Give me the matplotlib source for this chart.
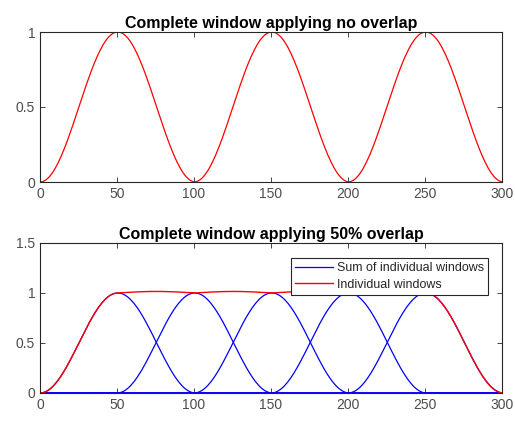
"""Hann window overlap demo: no overlap vs 50% overlap."""

import numpy as np
import matplotlib
matplotlib.use("Agg")
import matplotlib.pyplot as plt

# window setup
win_len = 100
total_len = 300
offsets_no_overlap = [0, 100, 200]
offsets_half_overlap = [0, 50, 100, 150, 200]
x_ticks = [0, 50, 100, 150, 200, 250, 300]
y_ticks_top = [0, 0.5, 1]
y_ticks_bottom = [0, 0.5, 1, 1.5]
titles = ["Complete window applying no overlap", "Complete window applying 50% overlap"]
legend_labels = ["Sum of individual windows", "Individual windows"]

plt.rcParams["font.family"] = ["Liberation Sans", "DejaVu Sans"]
axis_color = "#262626"
label_color = "#4d4d4d"

# hann window with its zeros just outside the segment (gives the small ripple above 1)
win = np.hanning(win_len + 2)[1:-1]


def place(offset):
    sig = np.zeros(total_len + 1)
    sig[offset + 1:offset + 1 + win_len] = win[:total_len - offset]
    return sig


fig = plt.figure(figsize=(5.15, 4.21), dpi=100)
ax1 = fig.add_axes([40 / 515, 1 - 182 / 421, 462 / 515, 150 / 421])
ax2 = fig.add_axes([40 / 515, 1 - 393 / 421, 462 / 515, 150 / 421])
xs = np.arange(total_len + 1)

# top: concatenated windows
top = sum(place(o) for o in offsets_no_overlap)
ax1.plot(xs, top, color="r", lw=0.9)
ax1.set_ylim(0, 1)
ax1.set_yticks(y_ticks_top)
ax1.set_yticklabels(["0", "0.5", "1"])

# bottom: overlapped windows and their sum
parts = [place(o) for o in offsets_half_overlap]
for i, p in enumerate(parts):
    ax2.plot(xs, p, color="b", lw=0.9, label=legend_labels[0] if i == 0 else None)
ax2.plot(xs, sum(parts), color="r", lw=1.0, label=legend_labels[1])
ax2.set_ylim(0, 1.5)
ax2.set_yticks(y_ticks_bottom)
ax2.set_yticklabels(["0", "0.5", "1", "1.5"])
leg = ax2.legend(loc="upper right", bbox_to_anchor=(0.97, 0.9), fontsize=9,
                 fancybox=False, framealpha=1, edgecolor=axis_color,
                 handlelength=3.0, handletextpad=0.3, borderpad=0.35,
                 labelspacing=0.35, borderaxespad=0)
leg.get_frame().set_linewidth(0.8)
for t in leg.get_texts():
    t.set_color(axis_color)

for ax, t in zip([ax1, ax2], titles):
    ax.set_xlim(0, 300)
    ax.set_xticks(x_ticks)
    ax.set_title(t, fontsize=11.5, fontweight="bold", pad=3, color="black")
    ax.tick_params(direction="in", top=True, right=True, length=3.5,
                   labelsize=10, color=axis_color, labelcolor=label_color, width=0.6)
    for s in ax.spines.values():
        s.set_color(axis_color)
        s.set_linewidth(0.8)

fig.savefig("out.png", dpi=100)
